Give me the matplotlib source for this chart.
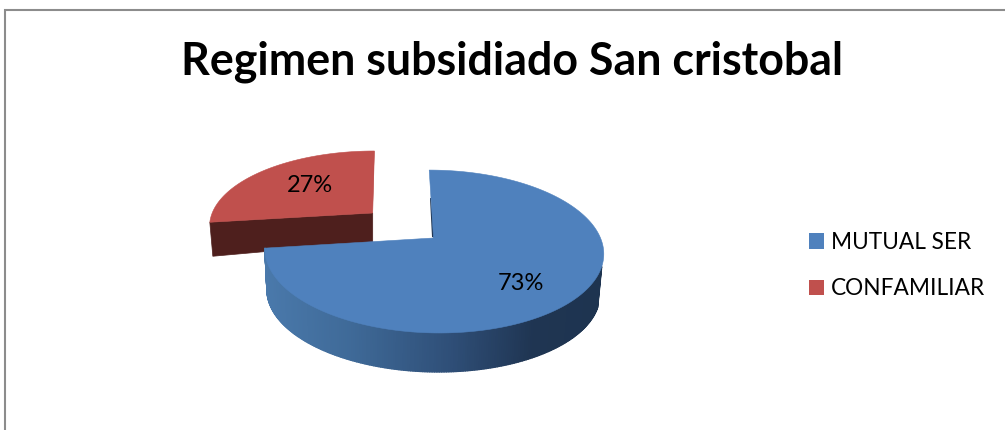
import numpy as np
import matplotlib
matplotlib.use("Agg")
import matplotlib.pyplot as plt
from matplotlib.patches import Polygon, Patch
from matplotlib.collections import PolyCollection
from matplotlib.colors import LinearSegmentedColormap

title = "Regimen subsidiado San cristobal"
categories = ["MUTUAL SER", "CONFAMILIAR"]
values = [73, 27]
colors = ["#4F81BD", "#C0504D"]

plt.rcParams["font.family"] = ["Lato", "DejaVu Sans"]
fig = plt.figure(figsize=(10.05, 4.30), dpi=100)
ax = fig.add_axes([0, 0, 1, 1])
ax.set_xlim(0, 1005)
ax.set_ylim(430, 0)
ax.axis("off")

ax.plot([5, 5, 1005], [430, 10, 10], color="#8C8C8C", lw=1.5, solid_joinstyle="miter", zorder=1)


def project(theta_deg, r, x0, y0, a, b, p=0.166, shear=-5.0):
    """Map angle on the pie disc to picture pixels through a simple perspective."""
    t = np.radians(theta_deg)
    u, v = r * np.cos(t), r * np.sin(t)
    w = 1 + p * v
    return (x0 + (a * u + shear * v) / w, y0 - b * v / w)


total = sum(values)
start = 90.0
blue_end = start - 360.0 * values[0] / total
red_end = blue_end - 360.0 * values[1] / total

# ---- exploded slice (drawn first, sits behind) ----
red_top = dict(x0=372.7, y0=213.0, a=160.5, b=72.3, shear=2.0)
ts = np.linspace(blue_end, red_end, 100)
rx, ry = project(ts, 1.0, **red_top)
ax_x, ax_y = project(0.0, 0.0, **red_top)
lx, ly = float(project(blue_end, 1.0, **red_top)[0]), float(project(blue_end, 1.0, **red_top)[1])
ax.add_patch(Polygon([(ax_x, ax_y), (lx, ly), (lx + 3, ly + 34), (ax_x, ax_y + 29)],
                     closed=True, fc="#4E1F1D", ec="#4E1F1D", lw=0.5, zorder=2))
# thin lit edge on the right wall of the slice
ex, ey = project(red_end, 1.0, **red_top)
ax.add_patch(Polygon([(ax_x, ax_y), (float(ex), float(ey)), (float(ex) - 2, float(ey) + 4), (ax_x, ax_y + 3)],
                     closed=True, fc="#A84744", ec="none", zorder=2))
ax.add_patch(Polygon(np.r_[[[ax_x, ax_y]], np.c_[rx, ry]], closed=True,
                     fc=colors[1], ec=colors[1], lw=0.4, zorder=3))

# ---- main slice ----
blue_top = dict(x0=433.5, y0=238.0, a=167.0, b=79.2)
blue_low = dict(x0=432.5, y0=279.0, a=164.0, b=77.5)

# curved wall as many thin quads with a left-to-right shade
tb = np.linspace(blue_end, -20.0, 220)
shade = LinearSegmentedColormap.from_list(
    "wall", [(0.0, "#4A79AB"), (0.25, "#3F6A98"), (0.55, "#2F4F78"), (0.8, "#1F3552"), (1.0, "#1E3450")])
x1, y1 = project(tb, 1.0, **blue_top)
x2, y2 = project(tb, 1.0, **blue_low)
quads = [[(x1[i], y1[i]), (x1[i + 1], y1[i + 1]), (x2[i + 1], y2[i + 1]), (x2[i], y2[i])]
         for i in range(len(tb) - 1)]
span = x1.max() - x1.min()
cols = [shade((x1[i] - x1.min()) / span) for i in range(len(tb) - 1)]
ax.add_collection(PolyCollection(quads, facecolors=cols, edgecolors=cols, linewidths=1.0, zorder=4))

# top face
tt = np.linspace(start, blue_end, 300)
tx, ty = project(tt, 1.0, **blue_top)
cx, cy = project(0.0, 0.0, **blue_top)
# dark sliver along the cut edge
sx, sy = project(start, 0.55, **blue_top)
ax.add_patch(Polygon([(cx + 1.0, cy), (float(sx), float(sy)), (float(sx) - 1.0, float(sy)), (cx - 1.5, cy - 1)],
                     closed=True, fc="#1F3552", ec="none", zorder=4))
ax.add_patch(Polygon(np.r_[[[cx, cy]], np.c_[tx, ty]], closed=True,
                     fc=colors[0], ec=colors[0], lw=0.4, zorder=5))

# ---- labels ----
ax.text(512, 62, title, fontsize=32.2, fontweight="bold", ha="center", va="center", color="black", zorder=6)
ax.text(521, 284, f"{values[0]}%", fontsize=17, ha="center", va="center", color="black", zorder=6)
ax.text(310, 185, f"{values[1]}%", fontsize=17, ha="center", va="center", color="black", zorder=6)

handles = [Patch(fc=c, ec="none") for c in colors]
ax.legend(handles, categories, loc="center left", bbox_to_anchor=(802.5 / 1005, 1 - 265.5 / 430),
          frameon=False, fontsize=16.3, handlelength=0.66, handleheight=0.66,
          handletextpad=0.3, labelspacing=1.12, borderpad=0, borderaxespad=0.3)

fig.savefig("out.png", dpi=100, facecolor="white")
